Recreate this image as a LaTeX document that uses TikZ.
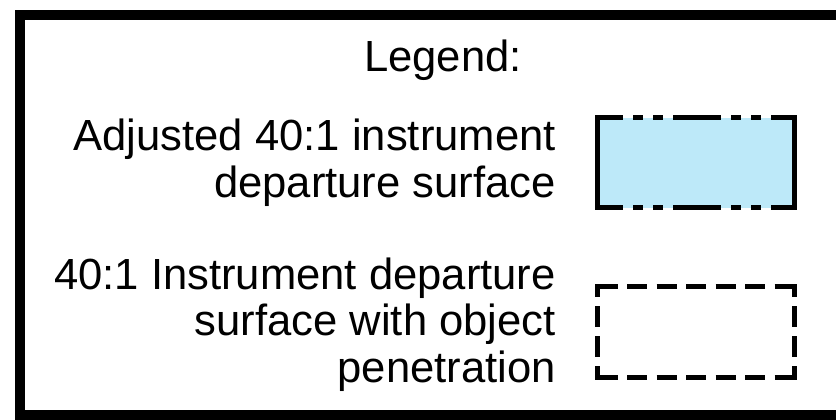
\documentclass[tikz,border=0pt]{standalone}
\usepackage{fontspec}
\setmainfont{Liberation Sans}
\definecolor{surfblue}{RGB}{189,233,249}
\begin{document}
\begin{tikzpicture}[x=1pt,y=-1pt,
  frameline/.style={line width=10pt, line join=miter},
  solidedge/.style={line width=5pt},
  dashdotdot/.style={line width=5pt, dash pattern=on 48pt off 10pt on 10pt off 10pt on 10pt off 10pt, dash phase=22.5pt},
  dashh/.style={line width=5pt, dash pattern=on 20pt off 9.5pt},
  dashv/.style={line width=5pt, dash pattern=on 21pt off 9pt, dash phase=8pt},
  lbl/.style={font=\fontsize{43.6}{46.5}\selectfont, align=right, inner sep=0pt}]
\useasboundingbox (0,0) rectangle (836,420);
% outer frame
\draw[frameline] (850,15) -- (20,15) -- (20,415) -- (850,415);
% texts (base anchor = baseline of last line)
\node[lbl, anchor=base east] (legendtitle) at (522,72) {Legend:};
\node[lbl, anchor=base east] (adjlabel) at (556,197) {Adjusted 40:1 instrument\\departure surface};
\node[lbl, anchor=base east] (penlabel) at (556,382) {40:1 Instrument departure\\surface with object\\penetration};
% adjusted surface swatch
\fill[surfblue] (597.5,117.5) rectangle (794.5,207.5);
\draw[solidedge] (597.5,115) -- (597.5,210);
\draw[solidedge] (794.5,115) -- (794.5,210);
\draw[dashdotdot] (597.5,117.5) -- (794.5,117.5);
\draw[dashdotdot] (597.5,207.5) -- (794.5,207.5);
% penetration surface swatch
\draw[dashv] (597.5,284) -- (597.5,380);
\draw[dashv] (794.5,284) -- (794.5,380);
\draw[dashh] (597.5,286.5) -- (794.5,286.5);
\draw[dashh] (597.5,377.5) -- (794.5,377.5);
\end{tikzpicture}
\end{document}
